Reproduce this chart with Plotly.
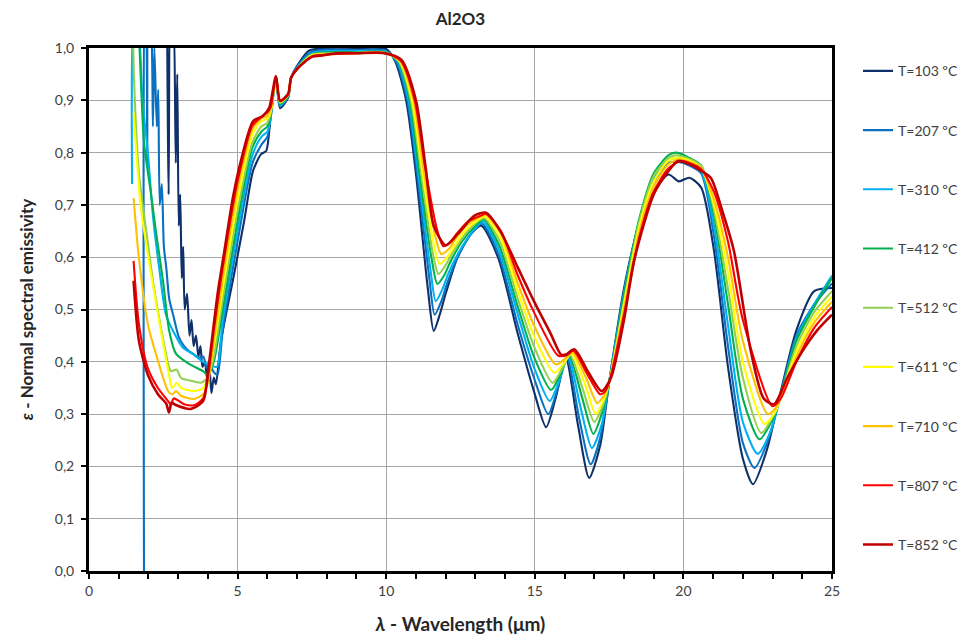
import plotly.graph_objects as go

# ---------------- data ----------------
labels = ["T=103 ºC", "T=207 ºC", "T=310 ºC", "T=412 ºC", "T=512 ºC",
          "T=611 ºC", "T=710 ºC", "T=807 ºC", "T=852 ºC"]
colors = ["#10306a", "#0a70c0", "#00b0f0", "#00b050", "#92d050",
          "#ffff00", "#ffc000", "#ff0000", "#c00000"]

wl_103 = [2.62, 2.68, 2.72, 2.78, 2.85, 2.92, 2.97, 3.02, 3.07, 3.12, 3.17, 3.22, 3.3, 3.38, 3.45, 3.52,
          3.6, 3.68, 3.75, 3.82, 3.9, 3.97, 4.05, 4.12, 4.2, 4.27, 4.44, 4.88, 5.22, 5.52, 5.79, 5.96,
          6.12, 6.29, 6.43, 6.7, 6.8, 7.05, 7.4, 8.0, 9.0, 10.0, 10.3, 10.67, 11.0, 11.4, 11.6, 11.8,
          12.0, 12.4, 12.85, 13.2, 13.76, 14.43, 14.97, 15.38, 15.7, 16.05, 16.45, 16.83, 17.2, 17.5,
          18.0, 18.5, 19.0, 19.5, 19.85, 20.2, 20.6, 21.03, 21.5, 22.0, 22.34, 22.8, 23.28, 23.8, 24.4, 25.0]
eps_103 = [1.1, 0.72, 1.08, 1.02, 1.05, 0.78, 0.95, 0.66, 0.72, 0.56, 0.62, 0.5, 0.53, 0.45, 0.48, 0.43,
           0.45, 0.41, 0.43, 0.39, 0.4, 0.37, 0.39, 0.34, 0.37, 0.357, 0.44, 0.567, 0.669, 0.765, 0.797, 0.803,
           0.875, 0.945, 0.885, 0.905, 0.943, 0.97, 0.995, 1.0, 1.0, 0.998, 0.975, 0.9, 0.76, 0.54, 0.459, 0.49,
           0.53, 0.6, 0.644, 0.66, 0.60, 0.453, 0.344, 0.275, 0.33, 0.405, 0.28, 0.178, 0.24, 0.36,
           0.54, 0.66, 0.725, 0.758, 0.745, 0.752, 0.733, 0.612, 0.39, 0.215, 0.166, 0.23, 0.344, 0.46, 0.535, 0.541]

wl_207 = [1.85, 1.87, 1.93, 1.96, 2.0, 2.1, 2.15, 2.2, 2.28, 2.33, 2.38, 2.45, 2.52, 2.6, 2.7, 2.83,
          3.03, 3.2, 3.37, 3.5, 3.7, 3.85, 3.95, 4.06, 4.2, 4.32, 4.5, 5.0, 5.5, 5.8, 6.0, 6.12, 6.29,
          6.43, 6.7, 6.8, 7.05, 7.45, 8.0, 9.0, 10.0, 10.33, 10.71, 11.04, 11.45, 11.63, 11.85, 12.05,
          12.45, 12.9, 13.22, 13.78, 14.43, 14.97, 15.45, 15.75, 16.08, 16.5, 16.88, 17.2, 17.5, 18.0,
          18.5, 19.0, 19.5, 19.85, 20.2, 20.6, 21.03, 21.5, 22.0, 22.39, 22.85, 23.28, 23.8, 24.4, 25.0]
eps_207 = [0.0, 1.1, 1.05, 0.78, 1.05, 1.02, 0.85, 1.0, 0.85, 0.92, 0.7, 0.74, 0.62, 0.58, 0.52, 0.49,
           0.446, 0.43, 0.42, 0.415, 0.408, 0.41, 0.39, 0.395, 0.38, 0.375, 0.46, 0.63, 0.78, 0.815, 0.83, 0.87, 0.945,
           0.89, 0.907, 0.943, 0.968, 0.992, 0.997, 0.996, 0.995, 0.975, 0.9, 0.76, 0.56, 0.49, 0.515, 0.55,
           0.605, 0.648, 0.664, 0.605, 0.47, 0.37, 0.30, 0.345, 0.408, 0.29, 0.204, 0.255, 0.36, 0.535,
           0.665, 0.745, 0.78, 0.782, 0.775, 0.76, 0.64, 0.43, 0.245, 0.197, 0.25, 0.34, 0.45, 0.51, 0.55]

wl_310 = [1.45, 1.5, 1.65, 1.72, 1.8, 1.98, 2.15, 2.36, 2.59, 2.83, 3.16, 3.5, 3.84, 4.06, 4.3, 4.5, 5.0,
          5.5, 5.8, 6.0, 6.12, 6.29, 6.43, 6.7, 6.8, 7.05, 7.5, 8.0, 9.0, 10.0, 10.37, 10.75, 11.08, 11.48,
          11.67, 11.9, 12.1, 12.5, 12.95, 13.25, 13.8, 14.43, 14.97, 15.5, 15.8, 16.12, 16.55, 16.92, 17.25,
          17.5, 18.0, 18.5, 19.0, 19.5, 19.85, 20.2, 20.6, 21.03, 21.5, 22.0, 22.5, 22.95, 23.28, 23.8, 24.4, 25.0]
eps_310 = [0.74, 1.05, 1.08, 1.0, 0.9, 0.8, 0.68, 0.58, 0.49, 0.459, 0.427, 0.415, 0.40, 0.395, 0.39, 0.48, 0.65,
           0.795, 0.83, 0.84, 0.87, 0.945, 0.89, 0.908, 0.943, 0.966, 0.99, 0.994, 0.994, 0.993, 0.975, 0.9, 0.76, 0.58,
           0.516, 0.54, 0.57, 0.615, 0.652, 0.668, 0.612, 0.49, 0.39, 0.325, 0.36, 0.41, 0.31, 0.235, 0.28,
           0.36, 0.53, 0.665, 0.75, 0.785, 0.79, 0.78, 0.765, 0.66, 0.47, 0.285, 0.224, 0.27, 0.337, 0.445, 0.51, 0.565]

wl_412 = [1.62, 1.7, 1.85, 2.09, 2.25, 2.49, 2.7, 2.93, 3.37, 3.84, 4.0, 4.2, 4.5, 5.0, 5.5, 5.8, 6.0,
          6.12, 6.29, 6.43, 6.7, 6.8, 7.05, 7.5, 8.0, 9.0, 10.0, 10.4, 10.79, 11.12, 11.52, 11.72, 11.95,
          12.15, 12.55, 13.0, 13.28, 13.82, 14.43, 14.97, 15.55, 15.85, 16.15, 16.6, 16.97, 17.25, 17.5,
          18.0, 18.5, 19.0, 19.5, 19.75, 20.2, 20.6, 21.03, 21.5, 22.0, 22.56, 23.0, 23.28, 23.8, 24.4, 25.0]
eps_412 = [1.08, 1.0, 0.82, 0.72, 0.65, 0.555, 0.459, 0.415, 0.396, 0.382, 0.375, 0.40, 0.50, 0.67, 0.81, 0.84, 0.85,
           0.875, 0.945, 0.893, 0.909, 0.943, 0.965, 0.988, 0.992, 0.992, 0.992, 0.975, 0.9, 0.76, 0.6, 0.549, 0.565,
           0.59, 0.63, 0.66, 0.672, 0.62, 0.505, 0.41, 0.346, 0.375, 0.412, 0.33, 0.262, 0.3, 0.36,
           0.525, 0.67, 0.76, 0.795, 0.8, 0.79, 0.775, 0.68, 0.51, 0.33, 0.252, 0.29, 0.336, 0.44, 0.505, 0.56]

wl_512 = [1.48, 1.51, 1.68, 1.95, 2.15, 2.34, 2.59, 2.7, 2.76, 2.95, 3.1, 3.5, 3.77, 4.0, 4.2, 4.5, 5.0,
          5.5, 5.8, 6.0, 6.12, 6.29, 6.43, 6.7, 6.8, 7.05, 7.5, 8.0, 9.0, 10.0, 10.42, 10.83, 11.16, 11.56,
          11.76, 12.0, 12.2, 12.6, 13.05, 13.3, 13.84, 14.43, 14.97, 15.6, 15.9, 16.18, 16.63, 17.0, 17.28,
          17.5, 18.0, 18.5, 19.0, 19.5, 19.75, 20.2, 20.6, 21.03, 21.5, 22.0, 22.62, 23.05, 23.28, 23.8, 24.4, 25.0]
eps_512 = [1.05, 0.95, 0.76, 0.64, 0.555, 0.49, 0.415, 0.388, 0.382, 0.385, 0.369, 0.363, 0.36, 0.37, 0.41, 0.52, 0.69,
           0.82, 0.85, 0.857, 0.877, 0.945, 0.895, 0.91, 0.943, 0.964, 0.987, 0.99, 0.991, 0.991, 0.975, 0.9, 0.77, 0.61,
           0.568, 0.585, 0.605, 0.64, 0.667, 0.675, 0.628, 0.52, 0.43, 0.36, 0.385, 0.414, 0.345, 0.285, 0.315,
           0.36, 0.515, 0.665, 0.755, 0.79, 0.795, 0.788, 0.775, 0.69, 0.54, 0.37, 0.264, 0.3, 0.335, 0.43, 0.495, 0.535]

wl_611 = [1.5, 1.75, 2.09, 2.42, 2.69, 2.8, 2.95, 3.1, 3.53, 3.84, 4.0, 4.2, 4.5, 5.0, 5.5, 5.8, 6.0,
          6.12, 6.29, 6.43, 6.7, 6.8, 7.05, 7.5, 7.9, 9.0, 10.0, 10.45, 10.87, 11.2, 11.6, 11.8, 12.05,
          12.25, 12.65, 13.1, 13.32, 13.85, 14.43, 14.97, 15.65, 15.95, 16.22, 16.67, 17.05, 17.3, 17.5,
          18.0, 18.5, 19.0, 19.5, 19.8, 20.2, 20.6, 21.03, 21.5, 22.0, 22.73, 23.1, 23.28, 23.8, 24.4, 25.0]
eps_611 = [0.876, 0.694, 0.568, 0.459, 0.376, 0.35, 0.36, 0.35, 0.344, 0.35, 0.37, 0.43, 0.54, 0.71, 0.835, 0.86, 0.865,
           0.88, 0.945, 0.897, 0.91, 0.943, 0.963, 0.986, 0.988, 0.99, 0.99, 0.975, 0.9, 0.77, 0.625, 0.587, 0.6,
           0.618, 0.65, 0.672, 0.678, 0.636, 0.535, 0.45, 0.379, 0.395, 0.416, 0.36, 0.30, 0.325, 0.36,
           0.51, 0.655, 0.745, 0.785, 0.79, 0.785, 0.77, 0.70, 0.57, 0.40, 0.281, 0.305, 0.333, 0.42, 0.485, 0.525]

wl_710 = [1.5, 1.68, 1.98, 2.32, 2.66, 2.8, 2.93, 3.1, 3.53, 3.84, 4.0, 4.2, 4.5, 5.0, 5.5, 5.8, 6.0,
          6.12, 6.29, 6.43, 6.7, 6.8, 7.05, 7.5, 7.9, 9.0, 10.0, 10.47, 10.92, 11.25, 11.65, 11.85, 12.1,
          12.3, 12.7, 13.15, 13.34, 13.86, 14.43, 14.97, 15.7, 16.0, 16.26, 16.72, 17.1, 17.32, 17.5,
          18.0, 18.5, 19.0, 19.5, 19.85, 20.2, 20.6, 21.03, 21.5, 22.0, 22.84, 23.15, 23.28, 23.8, 24.4, 25.0]
eps_710 = [0.713, 0.598, 0.472, 0.402, 0.344, 0.338, 0.344, 0.335, 0.329, 0.338, 0.36, 0.44, 0.56, 0.73, 0.845, 0.865, 0.87,
           0.885, 0.945, 0.898, 0.911, 0.943, 0.963, 0.985, 0.987, 0.99, 0.99, 0.975, 0.9, 0.77, 0.64, 0.606, 0.615,
           0.632, 0.66, 0.677, 0.681, 0.645, 0.55, 0.47, 0.395, 0.405, 0.418, 0.37, 0.321, 0.335, 0.36,
           0.50, 0.645, 0.735, 0.778, 0.787, 0.782, 0.77, 0.71, 0.60, 0.44, 0.30, 0.315, 0.332, 0.41, 0.475, 0.515]

wl_807 = [1.5, 1.68, 1.98, 2.32, 2.66, 2.75, 2.85, 3.2, 3.53, 3.84, 4.0, 4.2, 4.5, 5.0, 5.5, 5.8, 6.0,
          6.12, 6.29, 6.43, 6.7, 6.8, 7.05, 7.5, 7.9, 9.0, 10.0, 10.5, 10.96, 11.3, 11.7, 11.92, 12.15,
          12.35, 12.75, 13.2, 13.35, 13.86, 14.43, 14.97, 15.78, 16.05, 16.3, 16.78, 17.2, 17.35, 17.5,
          18.0, 18.5, 19.0, 19.5, 19.9, 20.2, 20.6, 21.03, 21.5, 22.0, 23.0, 23.28, 23.8, 24.4, 25.0]
eps_807 = [0.593, 0.472, 0.388, 0.35, 0.325, 0.318, 0.33, 0.319, 0.317, 0.33, 0.37, 0.46, 0.58, 0.745, 0.852, 0.868, 0.877,
           0.888, 0.946, 0.899, 0.912, 0.943, 0.962, 0.984, 0.987, 0.99, 0.99, 0.975, 0.9, 0.775, 0.655, 0.621, 0.628,
           0.643, 0.668, 0.68, 0.683, 0.65, 0.565, 0.495, 0.412, 0.412, 0.421, 0.375, 0.338, 0.342, 0.36,
           0.49, 0.635, 0.725, 0.77, 0.784, 0.78, 0.768, 0.725, 0.63, 0.48, 0.315, 0.33, 0.40, 0.465, 0.505]

wl_852 = [1.5, 1.68, 1.98, 2.32, 2.6, 2.69, 2.78, 2.9, 3.43, 3.84, 4.0, 4.2, 4.34, 4.54, 4.84, 5.11, 5.52,
          5.85, 6.06, 6.29, 6.43, 6.7, 6.8, 7.03, 7.5, 7.9, 8.3, 9.0, 9.93, 10.5, 11.0, 11.33, 11.6, 12.0,
          12.4, 12.96, 13.36, 13.86, 14.43, 14.97, 15.54, 15.88, 16.05, 16.33, 16.8, 17.25, 17.56, 18.0,
          18.34, 19.0, 19.5, 19.82, 20.2, 20.6, 20.93, 21.3, 21.7, 22.27, 22.7, 23.05, 23.5, 24.0, 24.5, 25.0]
eps_852 = [0.555, 0.44, 0.375, 0.338, 0.32, 0.303, 0.322, 0.318, 0.31, 0.325, 0.38, 0.472, 0.535, 0.606, 0.713, 0.784, 0.86,
           0.87, 0.885, 0.946, 0.899, 0.912, 0.943, 0.962, 0.983, 0.986, 0.99, 0.99, 0.99, 0.978, 0.9, 0.77, 0.66, 0.623,
           0.644, 0.679, 0.685, 0.648, 0.58, 0.516, 0.453, 0.414, 0.414, 0.424, 0.38, 0.344, 0.369, 0.48,
           0.593, 0.72, 0.765, 0.784, 0.778, 0.765, 0.751, 0.69, 0.612, 0.42, 0.33, 0.319, 0.37, 0.42, 0.46, 0.49]

wavelengths = [wl_103, wl_207, wl_310, wl_412, wl_512, wl_611, wl_710, wl_807, wl_852]
emissivities = [eps_103, eps_207, eps_310, eps_412, eps_512, eps_611, eps_710, eps_807, eps_852]

x_ticks = [0, 5, 10, 15, 20, 25]
y_ticks = [0.0, 0.1, 0.2, 0.3, 0.4, 0.5, 0.6, 0.7, 0.8, 0.9, 1.0]

# ---------------- figure ----------------
FONT = "Lato, 'Open Sans', 'DejaVu Sans', sans-serif"
fig = go.Figure()
for i, (lab, col, xs, ys) in enumerate(zip(labels, colors, wavelengths, emissivities)):
    fig.add_trace(go.Scatter(
        x=xs, y=ys, mode="lines", name=lab, legendgroup=lab,
        line=dict(color=col, width=2.6 if i == 8 else 2.1, shape="spline", smoothing=0.7),
    ))

L, T, R, B = 81, 40, 149, 78
fig.update_layout(
    width=973, height=641,
    margin=dict(l=L, r=R, t=T, b=B, autoexpand=False),
    paper_bgcolor="white", plot_bgcolor="white",
    separators=", ",
    font=dict(family=FONT, size=14, color="#404040"),
    title=dict(text="<b>Al2O3</b>", x=(L + (973 - R)) / 2 / 973, xanchor="center",
               y=1 - 11 / 641, yanchor="middle",
               font=dict(family=FONT, size=17, color="#262626")),
    showlegend=True,
    legend=dict(x=1.035, y=0.986, xanchor="left", yanchor="top", bgcolor="rgba(0,0,0,0)",
                tracegroupgap=38, font=dict(family=FONT, size=14, color="#404040"),
                itemwidth=30),
)
fig.update_xaxes(
    range=[0, 25], tickvals=x_ticks, ticktext=[str(v) for v in x_ticks],
    showgrid=True, gridcolor="#a6a6a6", gridwidth=1,
    showline=True, linecolor="black", linewidth=3, mirror=True,
    ticks="outside", ticklen=5, tickcolor="black", tickwidth=2,
    minor=dict(dtick=1, ticks="outside", ticklen=5, tickcolor="black", tickwidth=2, showgrid=False),
    tickfont=dict(family=FONT, size=14, color="#404040"),
    zeroline=False, automargin=False,
    title=dict(text="<b><i>λ</i> - Wavelength (μm)</b>", font=dict(family=FONT, size=19, color="#262626"),
               standoff=20),
)
fig.update_yaxes(
    range=[0, 1], tickvals=y_ticks, tickformat=".1f",
    showgrid=True, gridcolor="#a6a6a6", gridwidth=1,
    showline=True, linecolor="black", linewidth=3, mirror=True,
    ticks="outside", ticklen=5, tickcolor="black", tickwidth=2,
    tickfont=dict(family=FONT, size=14, color="#404040"),
    ticklabelstandoff=4,
    zeroline=False, automargin=False,
    title=dict(text="<b><i>ε</i> - Normal spectral emissivity</b>", font=dict(family=FONT, size=17, color="#262626"),
               standoff=17),
)

fig.write_html("out.html")
